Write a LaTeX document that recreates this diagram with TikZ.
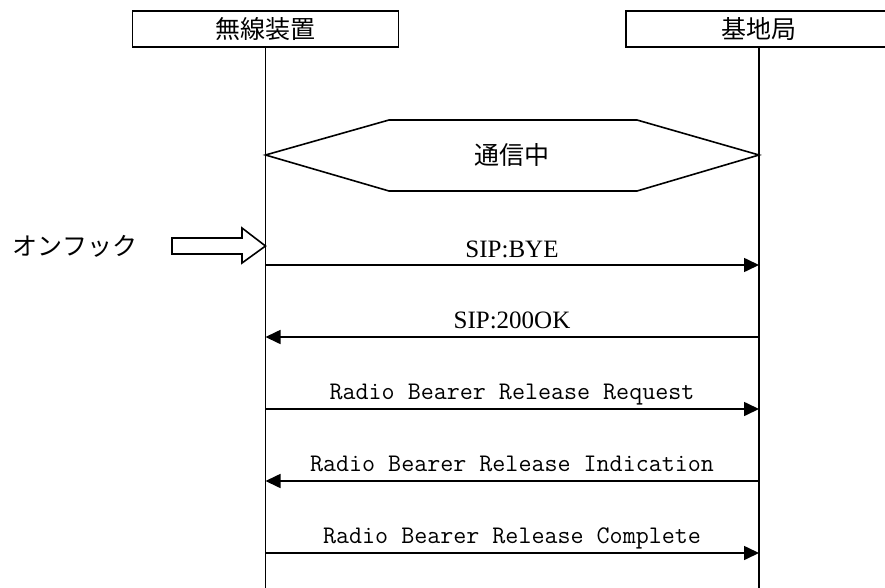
\documentclass[tikz,border=0pt]{standalone}
\usepackage{fontspec}
\setmainfont{Liberation Serif}
\newfontfamily\jp{Noto Sans CJK JP}
\usetikzlibrary{arrows.meta}
\begin{document}
\begin{tikzpicture}[x=1pt,y=-1pt,
  every node/.style={inner sep=0pt},
  lanebox/.style={draw,line width=1.6pt,minimum width=266pt,minimum height=36pt,font=\jp\fontsize{25}{25}\selectfont},
  life/.style={line width=1.6pt},
  msg/.style={line width=1.6pt,-{Triangle[length=15pt,width=14pt]}},
  siplbl/.style={font=\fontsize{25}{25}\selectfont,anchor=base},
  rblbl/.style={font=\ttfamily\fontsize{25.3}{25}\selectfont,anchor=base},
  jptext/.style={font=\jp\fontsize{25}{25}\selectfont},
  shapeline/.style={line width=1.6pt}]
\useasboundingbox (0,0) rectangle (885,588);
\clip (0,0) rectangle (885,588);

% lanes
\node[lanebox] (ue) at (265.5,29) {無線装置};
\node[lanebox] (bs) at (759,29) {基地局};
\coordinate (ueEnd) at (265.5,592);
\coordinate (bsEnd) at (759,592);
\draw[life] (ue.south) -- (ueEnd);
\draw[life] (bs.south) -- (bsEnd);

% state hexagon
\coordinate (hexL) at (265.5,155);
\coordinate (hexR) at (759,155);
\draw[shapeline] (hexL) -- (389,120) -- (637,120) -- (hexR) -- (637,191) -- (389,191) -- cycle;
\node[jptext] (state) at (512,155) {通信中};

% on-hook trigger
\node[jptext] (onhook) at (75,246) {オンフック};
\coordinate (hookTip) at (265.5,246);
\draw[shapeline,fill=white] (172,238) -- (242,238) -- (242,228) -- (hookTip) -- (242,263) -- (242,254) -- (172,254) -- cycle;

% messages
\coordinate (L1) at (265.5,265); \coordinate (R1) at (759,265);
\coordinate (L2) at (265.5,337); \coordinate (R2) at (759,337);
\coordinate (L3) at (265.5,409); \coordinate (R3) at (759,409);
\coordinate (L4) at (265.5,481); \coordinate (R4) at (759,481);
\coordinate (L5) at (265.5,553); \coordinate (R5) at (759,553);

\draw[msg] (L1) -- (R1);
\node[siplbl] (m1) at (512,257) {SIP:BYE};
\draw[msg] (R2) -- (L2);
\node[siplbl] (m2) at (512,328) {SIP:200OK};
\draw[msg] (L3) -- (R3);
\node[rblbl] (m3) at (512,399) {Radio Bearer Release Request};
\draw[msg] (R4) -- (L4);
\node[rblbl] (m4) at (512,471) {Radio Bearer Release Indication};
\draw[msg] (L5) -- (R5);
\node[rblbl] (m5) at (512,543) {Radio Bearer Release Complete};
\end{tikzpicture}
\end{document}
